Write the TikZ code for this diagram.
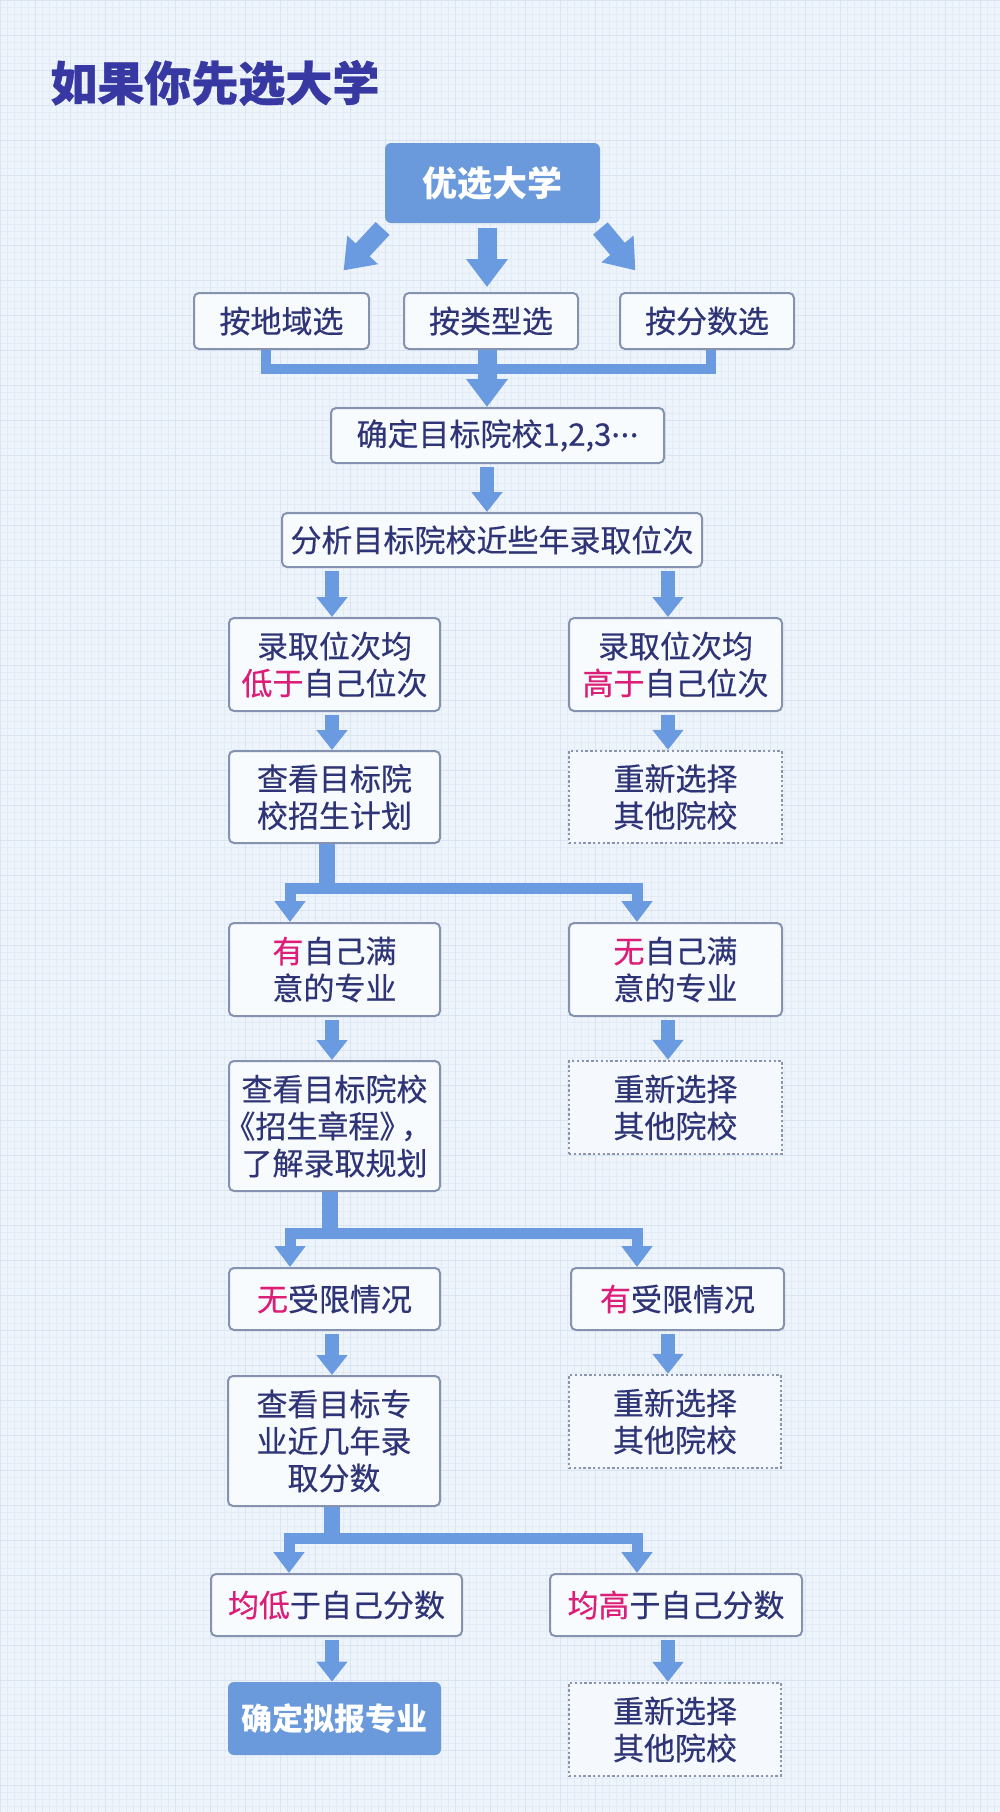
\documentclass[tikz,border=0pt]{standalone}
\usepackage{fontspec}
\setmainfont{Noto Sans CJK SC}
\newfontfamily\boxfont{Noto Sans CJK SC}[FakeBold=0.4]
\newfontfamily\titlefont{Noto Sans CJK SC}[BoldFeatures={FakeBold=0.8}]
\usetikzlibrary{arrows.meta,calc}
\definecolor{bgc}{HTML}{EEF4FB}
\definecolor{gridminor}{HTML}{E3EBF5}
\definecolor{gridmajor}{HTML}{D9E4F0}
\definecolor{ablue}{RGB}{106,155,224}
\definecolor{boxfill}{HTML}{6A9ADB}
\definecolor{bordr}{HTML}{8593B0}
\definecolor{navy}{HTML}{2E3476}
\definecolor{pinkc}{HTML}{DC1E78}
\definecolor{titlec}{HTML}{3838A2}
\definecolor{dotc}{HTML}{8A94AC}
\tikzset{
  boxbase/.style={align=center, inner sep=0pt, text=navy,
    font=\boxfont\fontsize{15.5}{18.5}\selectfont},
  plainbox/.style={boxbase, draw=bordr, line width=1pt, fill=white!60!bgc, rounded corners=2.5pt},
  dotbox/.style={boxbase, draw=dotc, line width=1.2pt, dash pattern=on 1.2pt off 1.2pt, fill=white!40!bgc},
  filledbox/.style={boxbase, fill=boxfill, rounded corners=3pt, text=white,
    font=\bfseries\fontsize{15.5}{18.5}\selectfont},
  marr/.style={draw=ablue, line width=7pt, -{Triangle[width=15pt,length=10pt]}, shorten <=1.5pt},
  tarr/.style={draw=ablue, line width=9.5pt, -{Triangle[width=20pt,length=14pt]}},
  trunk/.style={draw=ablue, line width=8pt},
  barr/.style={draw=ablue, line width=5.5pt, line join=miter, -{Triangle[width=15pt,length=10.5pt]}},
  mergeline/.style={draw=ablue, line width=5pt, line join=miter},
}
\begin{document}
\begin{tikzpicture}[x=0.5pt,y=-0.5pt]
\useasboundingbox (0,0) rectangle (1000,1812);
\fill[bgc] (0,0) rectangle (1000,1812);
\draw[gridminor, line width=0.35pt, step=3.5pt] (0,0) grid (1000,1812);
\draw[gridmajor, line width=0.5pt, step=17.5pt] (0,0) grid (1000,1812);

\node[anchor=west, inner sep=0pt, text=titlec, font=\titlefont\bfseries\fontsize{23.5}{28}\selectfont] (title) at (50,83) {如果你先选大学};

\node[filledbox, minimum width=107.5pt, minimum height=40pt, font=\bfseries\fontsize{17.5}{20}\selectfont] (top) at (492.5,183) {优选大学};

\node[plainbox, minimum width=87.5pt, minimum height=28pt] (r1a) at (281.5,321) {按地域选};
\node[plainbox, minimum width=87pt, minimum height=28pt] (r1b) at (491,321) {按类型选};
\node[plainbox, minimum width=87pt, minimum height=28pt] (r1c) at (707,321) {按分数选};

\node[plainbox, minimum width=166.5pt, minimum height=27.5pt] (queding) at (497.5,435.5) {确定目标院校1,2,3\raisebox{0.28em}{.\kern0.02em.\kern0.02em.}};
\node[plainbox, minimum width=210pt, minimum height=27pt] (fenxi) at (492,540) {分析目标院校近些年录取位次};

\node[plainbox, minimum width=105.5pt, minimum height=46.5pt] (L1) at (334.5,664.5) {录取位次均\\\textcolor{pinkc}{低于}自己位次};
\node[plainbox, minimum width=106.5pt, minimum height=46.5pt] (R1) at (675.5,664.5) {录取位次均\\\textcolor{pinkc}{高于}自己位次};

\node[plainbox, minimum width=105.5pt, minimum height=46pt] (L2) at (334.5,797) {查看目标院\\校招生计划};
\node[dotbox, minimum width=106.5pt, minimum height=46pt] (R2) at (675.5,797) {重新选择\\其他院校};

\node[plainbox, minimum width=105.5pt, minimum height=46.5pt] (L3) at (334.5,969.5) {\textcolor{pinkc}{有}自己满\\意的专业};
\node[plainbox, minimum width=106.5pt, minimum height=46.5pt] (R3) at (675.5,969.5) {\textcolor{pinkc}{无}自己满\\意的专业};

\node[plainbox, minimum width=105.5pt, minimum height=65pt] (L4) at (334.5,1126) {查看目标院校\\\kern-0.4em《招生章程》\kern-0.3em，\\了解录取规划};
\node[dotbox, minimum width=106.5pt, minimum height=46.5pt] (R4) at (675.5,1107.5) {重新选择\\其他院校};

\node[plainbox, minimum width=105.5pt, minimum height=31pt] (L5) at (334.5,1299) {\textcolor{pinkc}{无}受限情况};
\node[plainbox, minimum width=106.5pt, minimum height=31pt] (R5) at (677.5,1299) {\textcolor{pinkc}{有}受限情况};

\node[plainbox, minimum width=106pt, minimum height=65pt] (L6) at (334,1441) {查看目标专\\业近几年录\\取分数};
\node[dotbox, minimum width=106pt, minimum height=46.5pt] (R6) at (675,1421.5) {重新选择\\其他院校};

\node[plainbox, minimum width=125.5pt, minimum height=31pt] (L7) at (336.5,1605) {\textcolor{pinkc}{均低}于自己分数};
\node[plainbox, minimum width=126pt, minimum height=31pt] (R7) at (676,1605) {\textcolor{pinkc}{均高}于自己分数};

\node[filledbox, minimum width=106.5pt, minimum height=36.5pt] (L8) at (334.5,1718.5) {确定拟报专业};
\node[dotbox, minimum width=106pt, minimum height=46.5pt] (R8) at (675,1729.5) {重新选择\\其他院校};

% top fan
\draw[tarr] ($(top.south west)+(-2,5)$) -- ($(top.south west)+(-41,47)$);
\draw[tarr] ($(top.south east)+(0,5)$) -- ($(top.south east)+(35,47)$);
\draw[tarr] ($(top.south)+(-5.5,5)$) coordinate (m0) -- ($(m0 |- r1b.north)+(0,-5)$);
% merge row 1
\draw[mergeline] ($(r1a.south)+(-15.5,0)$) |- ($(r1c.south)+(4,19)$) -- ($(r1c.south)+(4,0)$);
\draw[tarr] ($(r1b.south)+(-4,0)$) coordinate (m1) -- (m1 |- queding.north);
\draw[marr] (queding.south -| m1) -- (fenxi.north -| m1);

\coordinate (lx) at ($(L1.north)+(-2.5,0)$);
\coordinate (rx) at ($(R1.north)+(-7.5,0)$);
\draw[marr] (fenxi.south -| lx) -- (L1.north -| lx);
\draw[marr] (fenxi.south -| rx) -- (R1.north -| rx);
\draw[marr] (L1.south -| lx) -- (L2.north -| lx);
\draw[marr] (R1.south -| rx) -- (R2.north -| rx);

% branch 1
\draw[trunk] ($(L2.south)+(-7.5,0)$) -- ++(0,49);
\draw[barr] ($(L2.south)+(-7.5,44)$) coordinate (h1) -| ($(L3.north)+(-44.5,0)$);
\draw[barr] (h1) -| ($(R3.north)+(-38.5,0)$);

\draw[marr] (L3.south -| lx) -- (L4.north -| lx);
\draw[marr] (R3.south -| rx) -- (R4.north -| rx);

% branch 2
\draw[trunk] ($(L4.south)+(-4.5,0)$) -- ++(0,46);
\draw[barr] ($(L4.south)+(-4.5,41.5)$) coordinate (h2) -| ($(L5.north)+(-44.5,0)$);
\draw[barr] (h2) -| ($(R5.north)+(-40.5,0)$);

\draw[marr] (L5.south -| lx) -- (L6.north -| lx);
\draw[marr] (R5.south -| rx) -- (R6.north -| rx);

% branch 3
\draw[trunk] ($(L6.south)+(-2,0)$) -- ++(0,36);
\draw[barr] ($(L6.south)+(-2,31.5)$) coordinate (h3) -| ($(L7.north)+(-47.5,0)$);
\draw[barr] (h3) -| ($(R7.north)+(-39,0)$);

\draw[marr] (L7.south -| lx) -- (L8.north -| lx);
\draw[marr] (R7.south -| rx) -- (R8.north -| rx);
\end{tikzpicture}
\end{document}
